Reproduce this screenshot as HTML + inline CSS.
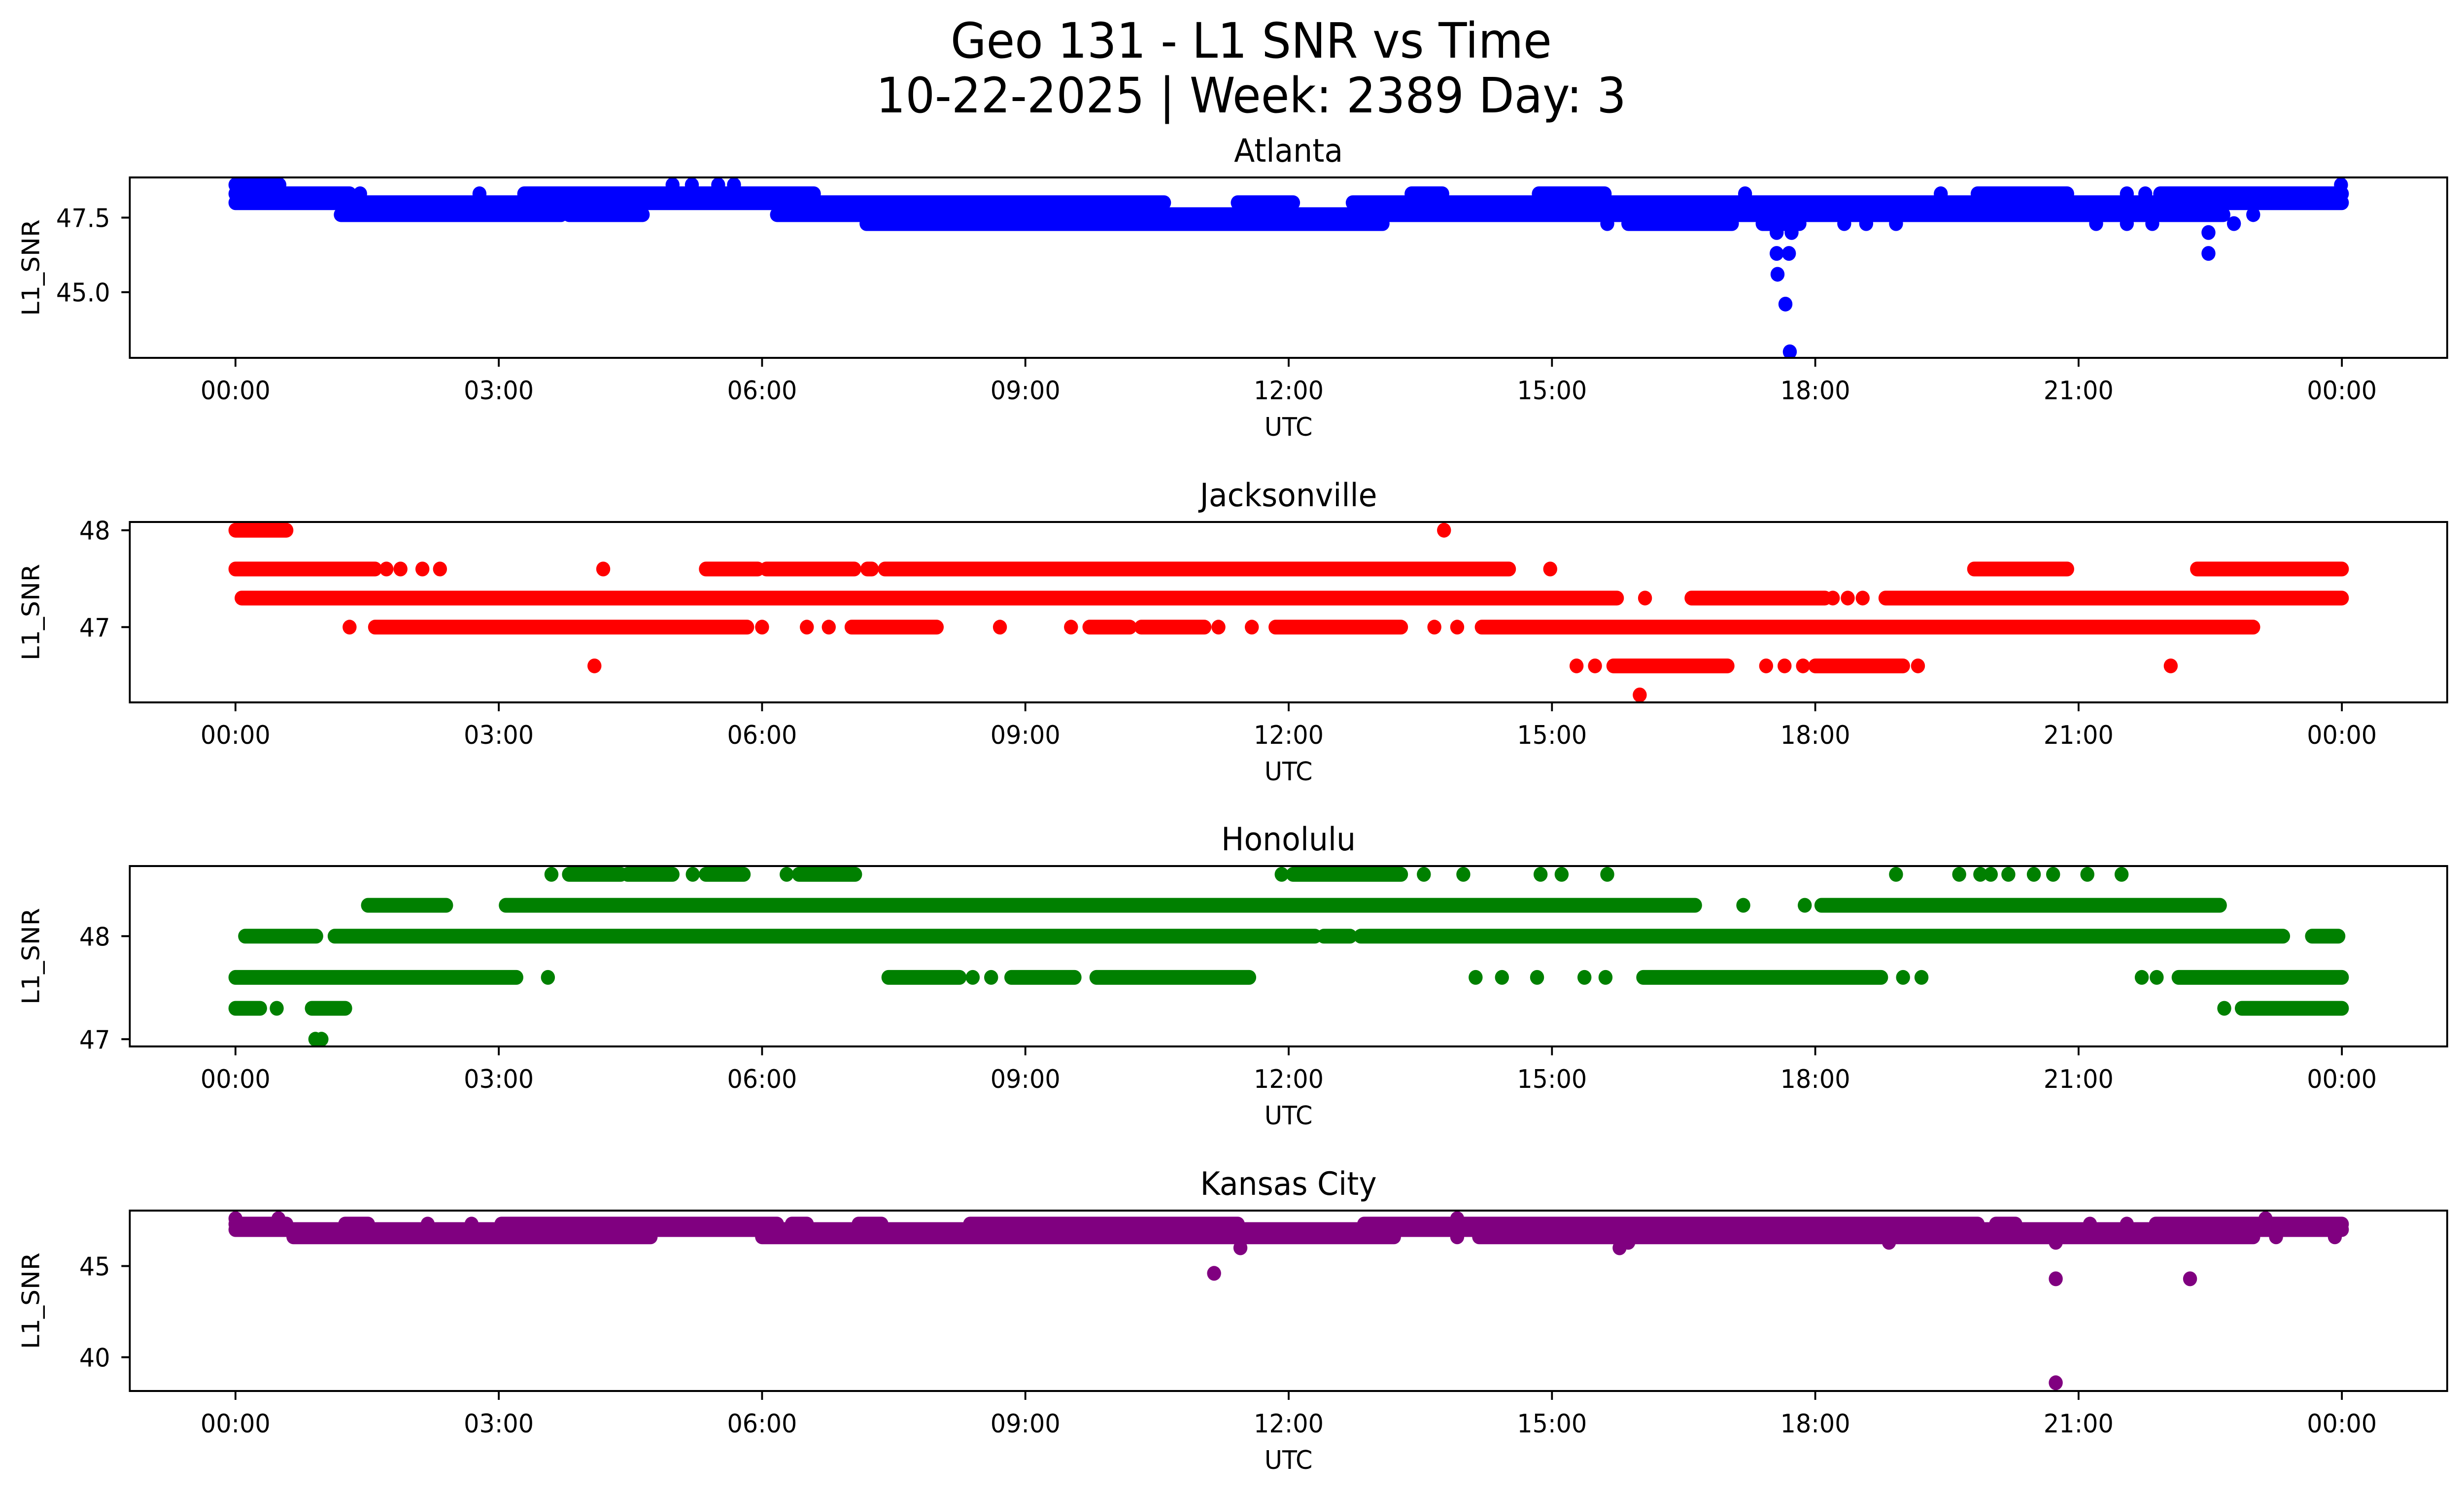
<!DOCTYPE html>
<html>
<head>
<meta charset="utf-8">
<meta name="viewport" content="width=device-width, initial-scale=1">
<style>
  html, body { margin: 0; padding: 0; background: #ffffff; overflow: hidden; width: 100%; height: 100%; }
  svg { display: block; position: absolute; left: 0; top: 0; width: 100vw; height: 100vh; font-family: "DejaVu Sans", "Liberation Sans", sans-serif; }
</style>
</head>
<body>
<svg id="fig" xmlns="http://www.w3.org/2000/svg" viewBox="0 0 5278 3033" preserveAspectRatio="none">
  <rect x="0" y="0" width="5278" height="3033" fill="#ffffff"/>
  <text x="2680" y="117" font-size="99" text-anchor="middle" fill="#000">Geo 131 - L1 SNR vs Time</text>
  <text x="2680" y="228" font-size="99" text-anchor="middle" fill="#000">10-22-2025 | Week: 2389 Day: 3</text>
</svg>
<script>
// ---------- shared axis data ----------
const xTickHours = [0, 3, 6, 9, 12, 15, 18, 21, 24];
const xTickLabels = ["00:00","03:00","06:00","09:00","12:00","15:00","18:00","21:00","00:00"];

// ---------- Atlanta ----------
const atlRuns = [
  [0,0.5,48.6],
  [0,1.3,48.3],[1.42,1.42,48.3],[2.78,2.78,48.3],[3.29,6.59,48.3],[13.4,13.75,48.3],[14.85,15.6,48.3],[17.2,17.2,48.3],[19.43,19.43,48.3],[19.85,20.87,48.3],[21.55,21.55,48.3],[21.76,21.76,48.3],[21.93,24,48.3],
  [0,10.58,48.0],[11.42,12.05,48.0],[12.73,24,48.0],
  [1.2,3.71,47.6],[3.8,4.64,47.6],[6.17,22.65,47.6],[22.99,22.99,47.6],
  [7.19,13.07,47.3],[15.87,17.05,47.3],[17.4,17.82,47.3]
];
const atlPtTimes  = [4.98,5.2,5.5,5.68,23.99,15.63,18.33,18.58,18.92,21.2,21.55,21.84,22.77,17.56,17.73,17.56,17.7,17.57,17.66,17.71,22.48,22.48];
const atlPtValues = [48.6,48.6,48.6,48.6,48.6,47.3,47.3,47.3,47.3,47.3,47.3,47.3,47.3,47.0,47.0,46.3,46.3,45.6,44.6,43.0,47.0,46.3];
const atlYTicks = [47.5, 45.0];
const atlYTickLabels = ["47.5", "45.0"];

// ---------- Jacksonville ----------
const jaxRuns = [
  [0,0.58,48.0],
  [0,1.59,47.6],[5.36,5.95,47.6],[6.05,7.05,47.6],[7.2,7.25,47.6],[7.4,14.51,47.6],[19.81,20.87,47.6],[22.35,24,47.6],
  [0.07,15.74,47.3],[16.59,18.11,47.3],[18.8,24,47.3],
  [1.59,5.83,47.0],[7.02,7.99,47.0],[9.73,10.19,47.0],[10.32,11.04,47.0],[11.85,13.28,47.0],[14.2,22.99,47.0],
  [15.7,17.0,46.6],[18.0,19.0,46.6]
];
const jaxPtTimes  = [13.77,1.72,1.88,2.13,2.33,4.19,14.98,16.06,18.2,18.37,18.54,1.3,6.0,6.51,6.76,8.71,9.52,11.2,11.58,13.66,13.92,4.09,15.28,15.49,17.44,17.65,17.86,19.17,22.05,16.0];
const jaxPtValues = [48.0,47.6,47.6,47.6,47.6,47.6,47.6,47.3,47.3,47.3,47.3,47.0,47.0,47.0,47.0,47.0,47.0,47.0,47.0,47.0,47.0,46.6,46.6,46.6,46.6,46.6,46.6,46.6,46.6,46.3];
const jaxYTicks = [48, 47];
const jaxYTickLabels = ["48", "47"];

// ---------- Honolulu ----------
const honRuns = [
  [3.8,4.39,48.6],[4.47,4.98,48.6],[5.36,5.79,48.6],[6.42,7.06,48.6],[12.05,13.28,48.6],
  [1.51,2.4,48.3],[3.08,16.63,48.3],[18.07,22.61,48.3],
  [0.11,0.92,48.0],[1.13,12.3,48.0],[12.4,12.7,48.0],[12.82,23.33,48.0],[23.66,23.96,48.0],
  [0,3.2,47.6],[7.44,8.25,47.6],[8.84,9.56,47.6],[9.81,11.55,47.6],[16.04,18.75,47.6],[22.14,24,47.6],
  [0,0.28,47.3],[0.87,1.25,47.3],[22.86,24,47.3]
];
const honPtTimes  = [3.6,5.21,6.28,11.92,13.54,13.99,14.87,15.11,15.63,18.92,19.64,19.88,20.0,20.2,20.49,20.71,21.1,21.49,17.18,17.88,3.56,8.4,8.61,14.13,14.43,14.83,15.37,15.61,19.0,19.21,21.72,21.89,0.47,22.66,0.91,0.98];
const honPtValues = [48.6,48.6,48.6,48.6,48.6,48.6,48.6,48.6,48.6,48.6,48.6,48.6,48.6,48.6,48.6,48.6,48.6,48.6,48.3,48.3,47.6,47.6,47.6,47.6,47.6,47.6,47.6,47.6,47.6,47.6,47.6,47.6,47.3,47.3,47.0,47.0];
const honYTicks = [48, 47];
const honYTickLabels = ["48", "47"];

// ---------- Kansas City ----------
const kcRuns = [
  [0,0.58,47.3],[1.25,1.51,47.3],[3.03,6.17,47.3],[6.34,6.51,47.3],[7.1,7.36,47.3],[8.37,11.42,47.3],[12.86,19.85,47.3],[20.06,20.28,47.3],[21.88,24,47.3],
  [0,24,47.0],
  [0.66,4.73,46.6],[6.0,13.2,46.6],[14.17,22.99,46.6]
];
const kcPtTimes  = [0,0.49,13.92,23.13,2.19,2.69,21.13,21.55,13.92,23.25,23.92,15.87,18.84,20.74,11.45,15.77,11.15,20.74,22.27,20.74];
const kcPtValues = [47.6,47.6,47.6,47.6,47.3,47.3,47.3,47.3,46.6,46.6,46.6,46.3,46.3,46.3,46.0,46.0,44.6,44.3,44.3,38.6];
const kcYTicks = [45, 40];
const kcYTickLabels = ["45", "40"];

// ---------- rendering ----------
const NS = "http://www.w3.org/2000/svg";
const svg = document.getElementById("fig");
const AX_LEFT = 278, AX_RIGHT = 5242, AX_H = 366;
const X0 = 504.4, PX_PER_HOUR = 188.0;
const R = 15;
function xScale(h) { return X0 + h * PX_PER_HOUR; }
function mk(tag, attrs) {
  const e = document.createElementNS(NS, tag);
  for (const k in attrs) e.setAttribute(k, attrs[k]);
  return e;
}

const panels = [
  { key: "atlanta", title: "Atlanta", color: "#0000ff", top: 360, refV: 47.5, refY: 441.5, pxPerUnit: 60.5,
    runs: atlRuns, pt: atlPtTimes, pv: atlPtValues, yt: atlYTicks, ytl: atlYTickLabels },
  { key: "jacksonville", title: "Jacksonville", color: "#ff0000", top: 1059, refV: 48, refY: 1075.7, pxPerUnit: 196.6,
    runs: jaxRuns, pt: jaxPtTimes, pv: jaxPtValues, yt: jaxYTicks, ytl: jaxYTickLabels },
  { key: "honolulu", title: "Honolulu", color: "#008000", top: 1757, refV: 48, refY: 1899.3, pxPerUnit: 209,
    runs: honRuns, pt: honPtTimes, pv: honPtValues, yt: honYTicks, ytl: honYTickLabels },
  { key: "kansas-city", title: "Kansas City", color: "#800080", top: 2456, refV: 45, refY: 2568.5, pxPerUnit: 37,
    runs: kcRuns, pt: kcPtTimes, pv: kcPtValues, yt: kcYTicks, ytl: kcYTickLabels }
];

panels.forEach(function (p) {
  const top = p.top, bottom = p.top + AX_H;
  const yScale = function (v) { return p.refY + (p.refV - v) * p.pxPerUnit; };
  const g = mk("g", {});
  
  
  svg.appendChild(g);

  const clipId = "clip-" + p.key;
  const cp = mk("clipPath", { id: clipId });
  cp.appendChild(mk("rect", { x: AX_LEFT, y: top, width: AX_RIGHT - AX_LEFT, height: AX_H }));
  g.appendChild(cp);

  const dg = mk("g", { "clip-path": "url(#" + clipId + ")", fill: p.color, stroke: p.color });
  
  
  g.appendChild(dg);
  p.runs.forEach(function (r) {
    const ln = mk("line", { x1: xScale(r[0]), y1: yScale(r[2]), x2: xScale(r[1]), y2: yScale(r[2]),
      "stroke-width": 2 * R, "stroke-linecap": "round" });
    
    
    dg.appendChild(ln);
  });
  for (let i = 0; i < p.pt.length; i++) {
    const c = mk("circle", { cx: xScale(p.pt[i]), cy: yScale(p.pv[i]), r: R, stroke: "none" });
    
    
    dg.appendChild(c);
  }

  const frame = mk("rect", { x: AX_LEFT, y: top, width: AX_RIGHT - AX_LEFT, height: AX_H, fill: "none", stroke: "#000", "stroke-width": 4 });
  
  
  g.appendChild(frame);

  xTickHours.forEach(function (h, i) {
    const x = xScale(h);
    const t = mk("line", { x1: x, y1: bottom, x2: x, y2: bottom + 18, stroke: "#000", "stroke-width": 4 });
    
    
    g.appendChild(t);
    const lb = mk("text", { x: x, y: bottom + 84, "font-size": 52, "text-anchor": "middle", fill: "#000" });
    lb.textContent = xTickLabels[i];
    
    
    g.appendChild(lb);
  });

  p.yt.forEach(function (v, i) {
    const y = yScale(v);
    const t = mk("line", { x1: AX_LEFT - 18, y1: y, x2: AX_LEFT, y2: y, stroke: "#000", "stroke-width": 4 });
    
    
    g.appendChild(t);
    const lb = mk("text", { x: 236, y: y + 19, "font-size": 52, "text-anchor": "end", fill: "#000" });
    lb.textContent = p.ytl[i];
    
    
    g.appendChild(lb);
  });

  const xl = mk("text", { x: (AX_LEFT + AX_RIGHT) / 2, y: bottom + 158, "font-size": 52, "text-anchor": "middle", fill: "#000" });
  xl.textContent = "UTC";
  
  
  g.appendChild(xl);

  const cy = top + AX_H / 2;
  const yl = mk("text", { x: 0, y: 0, "font-size": 52, "text-anchor": "middle", fill: "#000",
    transform: "translate(84," + cy + ") rotate(-90)" });
  yl.textContent = "L1_SNR";
  
  
  g.appendChild(yl);

  const tt = mk("text", { x: (AX_LEFT + AX_RIGHT) / 2, y: top - 32, "font-size": 65, "text-anchor": "middle", fill: "#000" });
  tt.textContent = p.title;
  
  
  g.appendChild(tt);
});
</script>
</body>
</html>
